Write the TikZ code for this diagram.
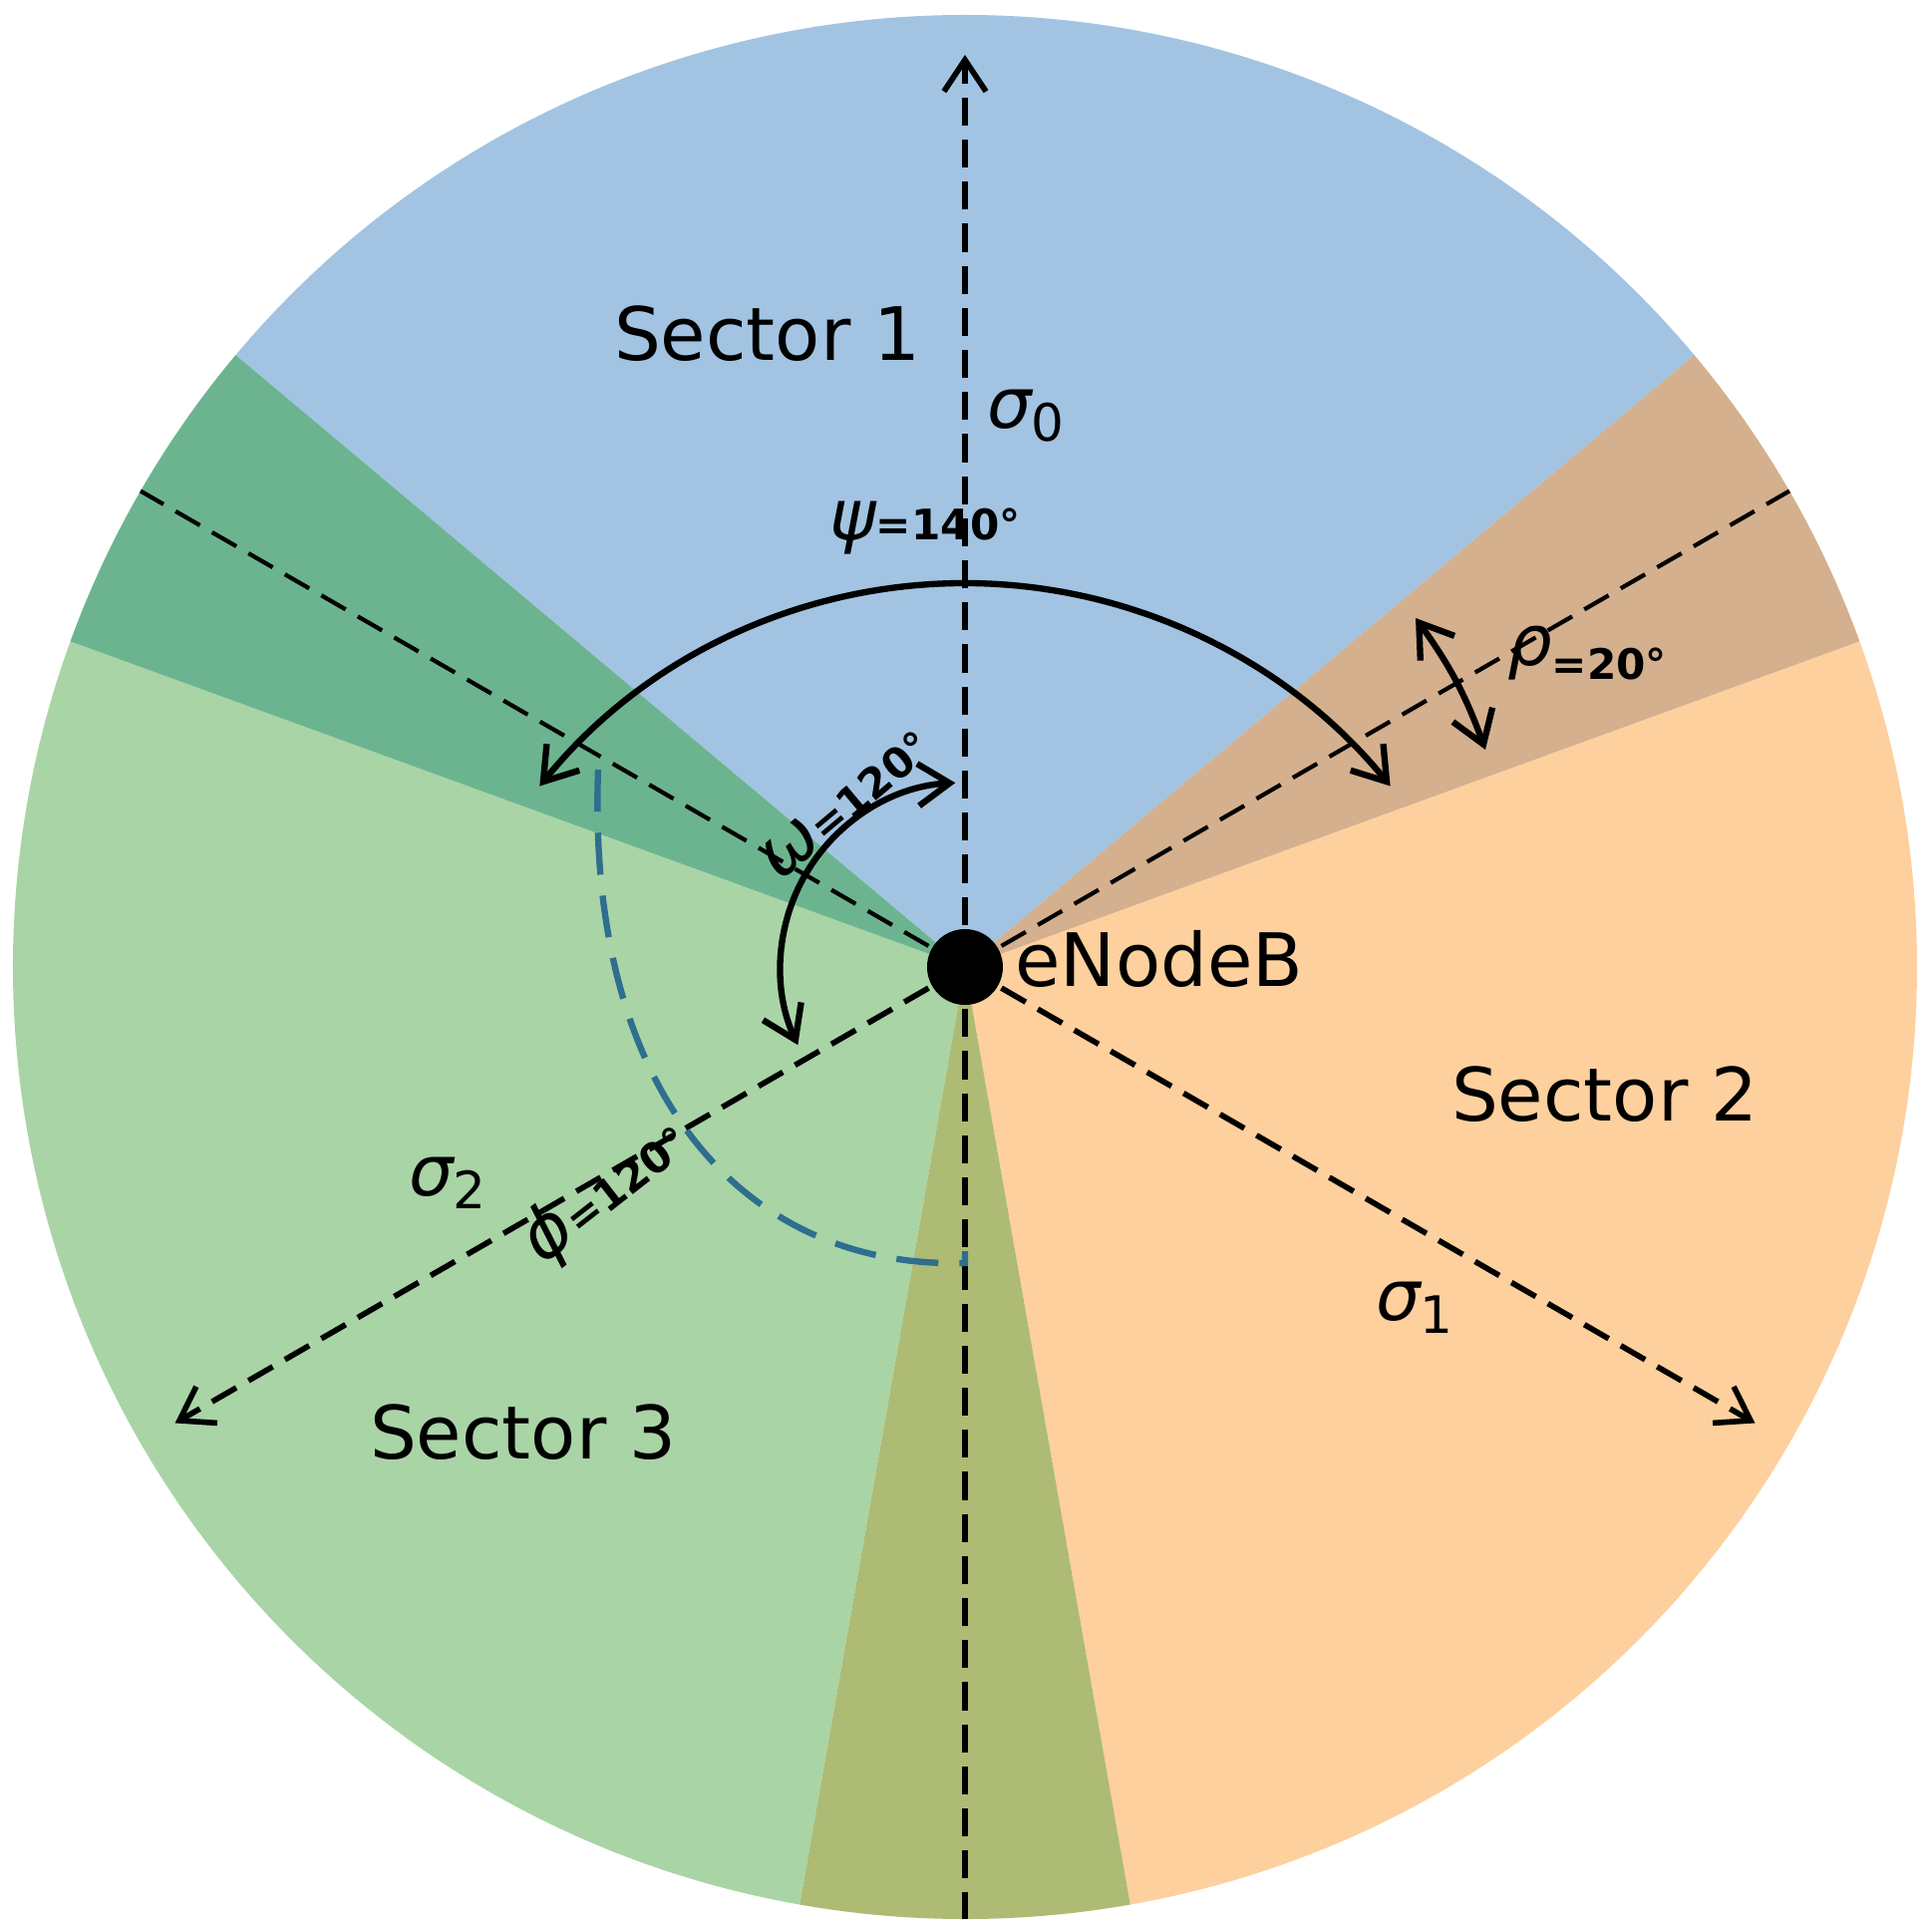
\documentclass[tikz,border=0pt]{standalone}
\usepackage{fontspec}
\setmainfont{DejaVu Sans}
\usetikzlibrary{arrows.meta}
\definecolor{cblue}{HTML}{A2C4E2}
\definecolor{corange}{HTML}{FDD09E}
\definecolor{cgreen}{HTML}{A9D4A6}
\definecolor{cbrown}{HTML}{D4B08E}
\definecolor{cdgreen}{HTML}{6CB48F}
\definecolor{colive}{HTML}{AEBB74}
\definecolor{cphi}{HTML}{2E6E8E}
\begin{document}
\begin{tikzpicture}[x=0.01cm,y=0.01cm,
  ax/.style={black,line width=1.6pt,dash pattern=on 8pt off 4pt},
  ar/.style={-{Straight Barb[length=9pt,width=12pt]}},
  dar/.style={line width=1.8pt,{Straight Barb[length=9pt,width=12pt]}-{Straight Barb[length=9pt,width=12pt]}},
  lab/.style={font=\fontsize{21}{24}\selectfont},
  sm/.style={font=\bfseries\fontsize{12}{14}\selectfont,inner sep=1pt}]
\newcommand{\gk}[1]{{\fontsize{20}{24}\selectfont\mdseries\itshape #1}}
\useasboundingbox (-968,-968) rectangle (966,970);
\def\R{955}
\fill[cblue] (0,0) -- (40:\R) arc (40:140:\R) -- cycle;
\fill[corange] (0,0) -- (-80:\R) arc (-80:20:\R) -- cycle;
\fill[cgreen] (0,0) -- (160:\R) arc (160:260:\R) -- cycle;
\fill[cbrown] (0,0) -- (20:\R) arc (20:40:\R) -- cycle;
\fill[cdgreen] (0,0) -- (140:\R) arc (140:160:\R) -- cycle;
\fill[colive] (0,0) -- (260:\R) arc (260:280:\R) -- cycle;
\coordinate (c) at (0,0);
\coordinate (top) at (0,915);
\coordinate (bot) at (0,-\R);
\coordinate (s1) at (-30:915);
\coordinate (s2) at (210:915);
\coordinate (e1) at (150:\R);
\coordinate (e2) at (30:\R);
\draw[ax,ar] (c) -- (top);
\draw[ax] (c) -- (bot);
\draw[ax,ar] (c) -- (s1);
\draw[ax,ar] (c) -- (s2);
\draw[ax,line width=1.2pt] (c) -- (e1);
\draw[ax,line width=1.2pt] (c) -- (e2);
\draw[dar] (0,-164) ++(141:549) arc (141:39:549);
\draw[dar] (c) ++(93:185) arc (93:205:185);
\draw[dar] (452,350) to[bend left=8] (522,218);
\draw[cphi,line width=1.8pt,dash pattern=on 12pt off 6pt]
  (-368,198) .. controls (-380,-130) and (-220,-297) .. (-13,-297) -- (0,-297) -- (0,-285);
\fill (c) circle (38);
\node[lab] (sec1) at (-198,635) {Sector 1};
\node[lab] (sec2) at (642,-128) {Sector 2};
\node[lab] (sec3) at (-443,-467) {Sector 3};
\node[lab,anchor=west] (enb) at (38,8) {eNodeB};
\node[lab] (sig0) at (62,553) {\gk{σ}\textsubscript{\mdseries 0}};
\node[lab] (sig1) at (452,-342) {\gk{σ}\textsubscript{\mdseries 1}};
\node[lab] (sig2) at (-518,-217) {\gk{σ}\textsubscript{\mdseries 2}};
\node[sm] (psi) at (-40,440) {\gk{ψ}=140°};
\node[sm,anchor=west] (rho) at (540,315) {\gk{ρ}\raisebox{-0.6ex}{=20°}};
\node[sm,rotate=40] (om) at (-120,165) {\gk{ω}=120°};
\node[sm,rotate=38] (phi) at (-360,-225) {\gk{ϕ}=120°};
\end{tikzpicture}
\end{document}
